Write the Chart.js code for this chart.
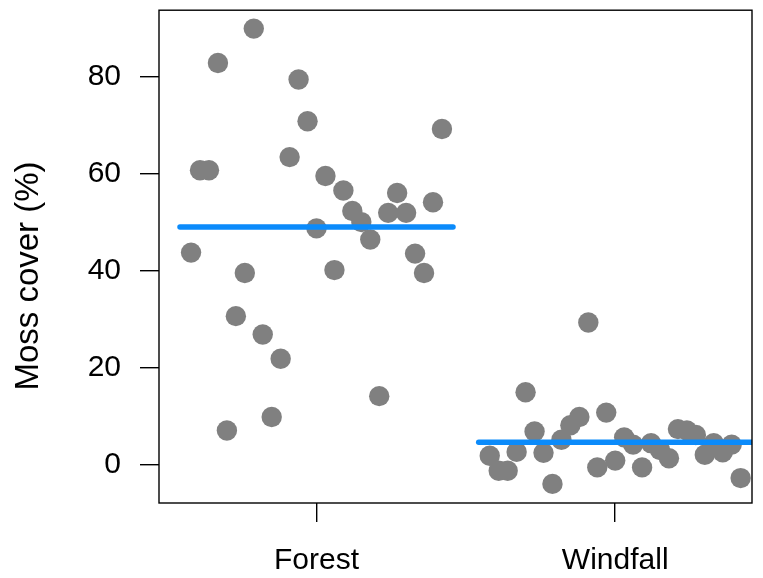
<!DOCTYPE html>
<html>
<head>
<meta charset="utf-8">
<script src="https://cdn.jsdelivr.net/npm/chart.js@4.4.1/dist/chart.umd.min.js"></script>
<style>
  body { margin: 0; background: #fff; }
  #wrap { width: 763px; height: 578px; }
</style>
</head>
<body>
<div id="wrap"><canvas id="grafica" width="763" height="578"></canvas></div>
<script>
// data
const categories = ["Forest", "Windfall"];
const forestCover = [43.8, 60.8, 60.8, 82.9, 7.1, 30.7, 39.6, 90.0, 26.9, 9.9,
    21.9, 63.5, 79.5, 70.9, 48.8, 59.6, 40.2, 56.6, 52.4, 50.1,
    46.5, 14.2, 52.0, 56.1, 52.0, 43.6, 39.6, 54.2, 69.3];
const windfallCover = [1.9, -1.2, -1.2, 2.7, 15.0, 6.9, 2.5, -3.9, 5.2, 8.2,
    9.9, 29.4, -0.5, 10.8, 0.9, 5.7, 4.2, -0.5, 4.5, 3.1,
    1.4, 7.4, 7.1, 6.2, 2.1, 4.5, 2.6, 4.2, -2.7];
const yTicks = [0, 20, 40, 60, 80];
const yLabel = "Moss cover (%)";

const spread = 0.42;    // strip spread either side of the category
const meanHalf = 0.457; // half width of the mean line

function strip(values, center) {
    const n = values.length;
    return values.map((v, i) => ({
        x: center - spread + i * (2 * spread / (n - 1)),
        y: v
    }));
}

function mean(values) {
    return values.reduce((a, b) => a + b, 0) / values.length;
}

const groups = [forestCover, windfallCover];
const datasets = [];

groups.forEach((vals, g) => {
    const c = g + 1;
    const m = mean(vals);
    datasets.push({
        data: [{ x: c - meanHalf, y: m }, { x: c + meanHalf, y: m }],
        showLine: true,
        borderColor: "#0b8bfb",
        borderWidth: 5.5,
        borderCapStyle: "round",
        pointRadius: 0,
        order: 0
    });
    datasets.push({
        data: strip(vals, c),
        backgroundColor: "#808080",
        borderWidth: 0,
        pointRadius: 10.2,
        pointHoverRadius: 10.2,
        order: 1
    });
});

const fontFamily = "'Liberation Sans', Arial, sans-serif";
const font = { family: fontFamily, size: 30 };

// plot box and y axis title
const boxPlugin = {
    id: "box",
    afterDraw(chart) {
        const a = chart.chartArea;
        const ctx = chart.ctx;
        ctx.save();
        ctx.strokeStyle = "#000";
        ctx.lineWidth = 1.4;
        ctx.strokeRect(a.left, a.top, a.right - a.left, a.bottom - a.top);

        ctx.translate(29, 276);
        ctx.rotate(-Math.PI / 2);
        ctx.fillStyle = "#000";
        ctx.font = "33px " + fontFamily;
        ctx.textAlign = "center";
        ctx.textBaseline = "middle";
        ctx.fillText(yLabel, 0, 0);
        ctx.restore();
    }
};

new Chart(document.getElementById("grafica"), {
    type: "scatter",
    data: { datasets: datasets },
    plugins: [boxPlugin],
    options: {
        responsive: false,
        animation: false,
        layout: { padding: { top: 10, right: 11, left: 0, bottom: 0 } },
        plugins: { legend: { display: false }, tooltip: { enabled: false } },
        scales: {
            x: {
                type: "linear",
                min: 0.4727,
                max: 2.458,
                afterBuildTicks: s => { s.ticks = categories.map((c, i) => ({ value: i + 1 })); },
                afterFit: s => { s.height = 75; s.paddingLeft = 0; s.paddingRight = 0; },
                ticks: {
                    callback: v => categories[v - 1],
                    autoSkip: false,
                    maxRotation: 0,
                    color: "#000",
                    font: font,
                    padding: 21
                },
                grid: {
                    drawOnChartArea: false,
                    drawTicks: true,
                    tickLength: 19,
                    color: "#000",
                    lineWidth: 1.4
                },
                border: { display: false }
            },
            y: {
                min: -7.84,
                max: 93.8,
                afterBuildTicks: s => { s.ticks = yTicks.map(v => ({ value: v })); },
                afterFit: s => { s.width = 159; s.paddingTop = 0; s.paddingBottom = 0; },
                ticks: {
                    color: "#000",
                    font: font,
                    padding: 19
                },
                grid: {
                    drawOnChartArea: false,
                    drawTicks: true,
                    tickLength: 19,
                    color: "#000",
                    lineWidth: 1.4
                },
                border: { display: false }
            }
        }
    }
});
</script>
</body>
</html>
